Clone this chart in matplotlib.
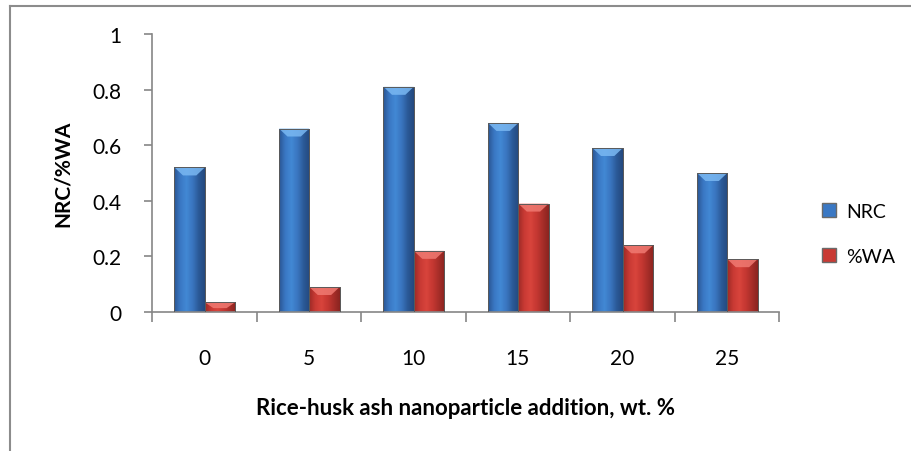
import matplotlib
matplotlib.use("Agg")
import matplotlib.pyplot as plt
from matplotlib.colors import LinearSegmentedColormap
from matplotlib.patches import Polygon, Rectangle
from matplotlib.lines import Line2D
import numpy as np

plt.rcParams['font.family'] = ['Lato', 'DejaVu Sans']

# data
categories = ['0', '5', '10', '15', '20', '25']
nrc = [0.52, 0.66, 0.81, 0.68, 0.59, 0.50]
wa = [0.035, 0.09, 0.22, 0.39, 0.24, 0.19]
series_names = ['NRC', '%WA']
yticks = [0, 0.2, 0.4, 0.6, 0.8, 1.0]
ytick_labels = ['0', '0.2', '0.4', '0.6', '0.8', '1']

blue_cmap = LinearSegmentedColormap.from_list(
    'b', ['#2a5592', '#3a78c4', '#4288d4', '#3a76c0', '#2b5a98', '#24497e'])
red_cmap = LinearSegmentedColormap.from_list(
    'r', ['#9c2a26', '#c93a34', '#d8443c', '#c63832', '#a82e29', '#8a2420'])
blue_top = '#7ab8f2'
red_top = '#f07a72'

fig = plt.figure(figsize=(9.12, 4.52), dpi=100)
ax = fig.add_axes([0.1667, 0.3075, 0.6875, 0.6151])

x = np.arange(len(categories))
w = 0.29
grad = np.linspace(0, 1, 64).reshape(1, -1)


def fancy_bars(xs, vals, cmap, top_color, label):
    bars = ax.bar(xs, vals, w, color=cmap(0.4), edgecolor='#6a6a6a',
                  linewidth=0.6, label=label, zorder=2)
    d = 8 / 278.0
    for b in bars:
        bx, bw, bh = b.get_x(), b.get_width(), b.get_height()
        im = ax.imshow(grad, cmap=cmap, extent=[bx, bx + bw, 0, bh],
                       aspect='auto', zorder=2.5)
        im.set_clip_path(b)
        dd = min(d, bh * 0.6)
        top = Polygon([[bx, bh], [bx + bw, bh], [bx + 0.72 * bw, bh - dd],
                       [bx + 0.28 * bw, bh - dd]], closed=True,
                      facecolor=top_color, edgecolor='none', alpha=0.85,
                      zorder=3)
        ax.add_patch(top)
        ax.add_patch(Rectangle((bx, 0), bw, bh, fill=False,
                               edgecolor='#5a5a5a', linewidth=0.7, zorder=3.5))
    return bars


b1 = fancy_bars(x - w / 2 + 0.005, nrc, blue_cmap, blue_top, series_names[0])
b2 = fancy_bars(x + w / 2 + 0.005, wa, red_cmap, red_top, series_names[1])

ax.set_xlim(-0.5, len(categories) - 0.5)
ax.set_ylim(0, 1.0)

for s in ['top', 'right']:
    ax.spines[s].set_visible(False)
for s in ['left', 'bottom']:
    ax.spines[s].set_color('#868686')
    ax.spines[s].set_linewidth(1.2)

ax.set_yticks(yticks)
ax.set_yticklabels(ytick_labels, fontsize=15)
ax.set_xticks(x)
ax.set_xticklabels(categories, fontsize=15)
ax.set_xticks(np.arange(-0.5, len(categories)), minor=True)
ax.tick_params(axis='x', which='major', length=0, pad=26)
ax.tick_params(axis='x', which='minor', length=7, color='#868686', width=1.2,
               direction='out')
ax.tick_params(axis='y', length=6, color='#868686', width=1.2, pad=16)

ax.set_ylabel('NRC/%WA', fontsize=15, fontweight='bold', labelpad=14)
ax.set_xlabel('Rice-husk ash nanoparticle addition, wt. %', fontsize=16,
              fontweight='bold', labelpad=21)

# legend with small gradient-looking squares
handles = [Rectangle((0, 0), 1, 1, facecolor='#3a78c4', edgecolor='#6a6a6a'),
           Rectangle((0, 0), 1, 1, facecolor='#c93a34', edgecolor='#6a6a6a')]
fig.legend(handles, series_names, loc='center left',
           bbox_to_anchor=(0.882, 0.48), frameon=False, fontsize=14,
           handlelength=0.75, handleheight=0.75, handletextpad=0.5,
           labelspacing=1.45)

# chart area border (top and left visible)
fig.add_artist(Line2D([10 / 912, 10 / 912], [0, 1 - 7 / 452],
                      color='#8c8c8c', linewidth=1.5))
fig.add_artist(Line2D([10 / 912, 1], [1 - 7 / 452, 1 - 7 / 452],
                      color='#8c8c8c', linewidth=1.5))

fig.savefig('out.png', dpi=100)
